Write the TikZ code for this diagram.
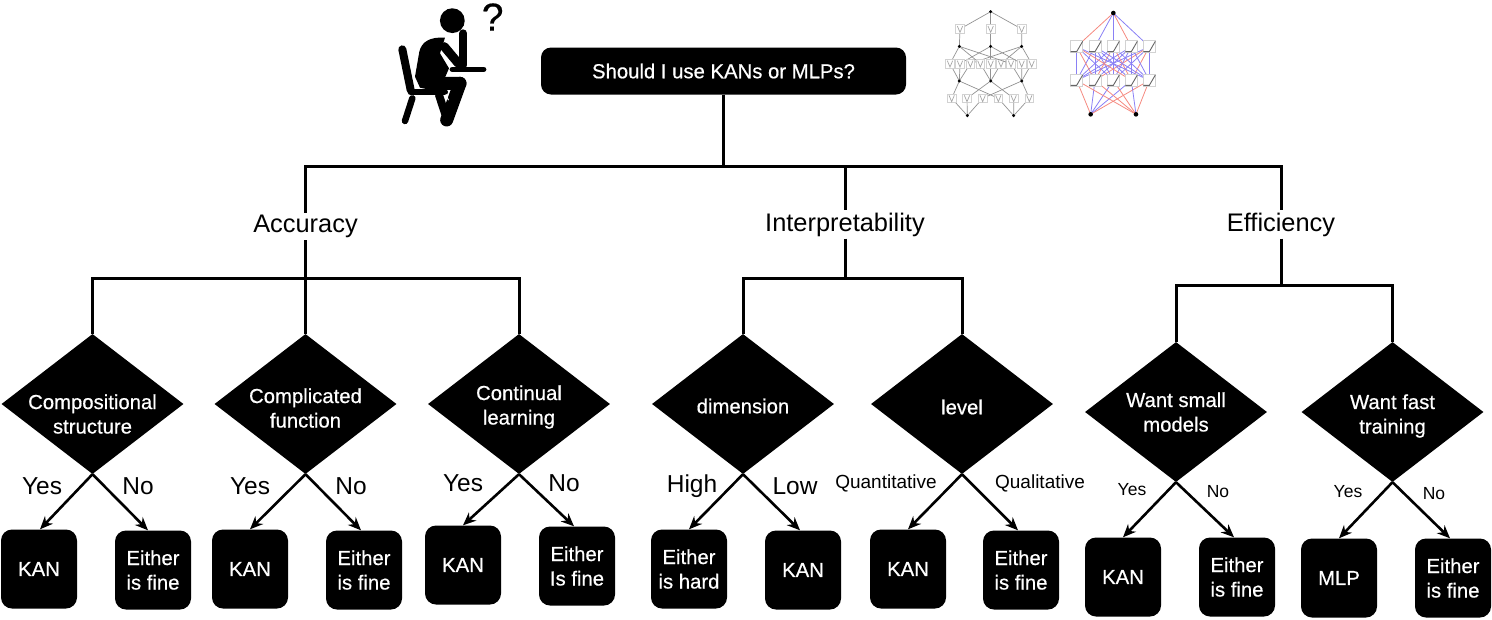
\documentclass[tikz,border=0pt]{standalone}
\usepackage{fontspec}
\setmainfont{Liberation Sans}
\newfontfamily\mediumfont[FakeBold=0.5]{Liberation Sans}
\usetikzlibrary{shapes.geometric,arrows.meta}
\definecolor{edgered}{HTML}{F58A80}
\definecolor{edgeblue}{HTML}{8A80F5}
\tikzset{
  treeline/.style={line width=3pt},
  title/.style={fill=black,text=white,rounded corners=10pt,minimum width=365pt,minimum height=47pt,inner sep=0pt,font=\fontsize{20.3}{24}\mediumfont},
  topic/.style={inner sep=2pt,font=\fontsize{25.4}{30}\selectfont},
  choice/.style={diamond,fill=black,inner sep=0pt,minimum width=182pt,minimum height=140pt},
  choicetext/.style={text=white,align=center,font=\fontsize{20.3}{24.5}\mediumfont},
  leaf/.style={fill=black,text=white,rounded corners=11pt,minimum width=76pt,minimum height=79pt,inner sep=0pt,align=center,font=\fontsize{20.3}{24.5}\mediumfont},
  choicearrow/.style={line width=2.6pt,-{Stealth[length=13pt,width=11pt]}},
  answer/.style={inner sep=0pt,font=\fontsize{24.5}{28}\selectfont},
  answermid/.style={inner sep=0pt,font=\fontsize{19}{22}\selectfont},
  answersmall/.style={inner sep=0pt,font=\fontsize{17.5}{22}\selectfont},
  netnode/.style={fill=black},
  funcbox/.style={draw=gray!35,fill=white,line width=.8pt},
}
\begin{document}
\begin{tikzpicture}[x=1pt,y=-1pt]
  \useasboundingbox (0,0) rectangle (1492,619);

  % root of the tree and the three topics
  \node[title] (root) at (723.5,71) {Should I use KANs or MLPs?};
  \node[topic] (accuracy) at (305.5,226.5) {Accuracy};
  \node[topic] (interp) at (845,224.5) {Interpretability};
  \node[topic] (effic) at (1281,224.5) {Efficiency};
  \coordinate (rootjoin) at (723.5,166);
  \coordinate (accjoin) at (305.5,166);
  \coordinate (intjoin) at (845,166);
  \coordinate (effjoin) at (1281,166);
  \draw[treeline] (root.south) -- (rootjoin);
  \draw[treeline,line cap=rect] (accjoin) -- (effjoin);
  \draw[treeline] (accjoin) -- (accuracy.north);
  \draw[treeline] (intjoin) -- (interp.north);
  \draw[treeline] (effjoin) -- (effic.north);

  % diamonds
  \foreach \name/\xpos/\ypos/\off/\txt in {
    comp/92.5/404/10/{Compositional\\structure},
    compl/305.5/404/4/{Complicated\\function},
    cont/519/404/3/{Continual\\learning},
    dimen/743/404/2/{dimension},
    level/962/404/3/{level},
    small/1176/412/0/{Want small\\models},
    fast/1392.5/412/4/{Want fast\\training}}{
    \node[choice,label={[choicetext,name=\name txt,yshift=-\off pt]center:\txt}] (\name) at (\xpos,\ypos) {};
  }

  % branches down to the diamonds
  \foreach \topic/\joinl/\joinr/\ypos in {
    accuracy/comp/cont/278,
    interp/dimen/level/278,
    effic/small/fast/285}{
    \coordinate (\topic l) at (\joinl.north |- 0,\ypos);
    \coordinate (\topic r) at (\joinr.north |- 0,\ypos);
    \coordinate (\topic m) at (\topic.south |- 0,\ypos);
    \draw[treeline] (\topic.south) -- (\topic m);
    \draw[treeline,line cap=rect] (\topic l) -- (\topic r);
    \draw[treeline] (\topic l) -- (\joinl.north);
    \draw[treeline] (\topic r) -- (\joinr.north);
  }
  \draw[treeline] (accuracym) -- (compl.north);

  % answers
  \foreach \name/\xpos/\ypos/\txt in {
    ka/39/569/KAN,
    fa/153/570/{Either\\is fine},
    kb/250/569/KAN,
    fb/364/570/{Either\\is fine},
    kc/463/565/KAN,
    fc/577/566/{Either\\Is fine},
    hd/689/569/{Either\\is hard},
    kd/803/570/KAN,
    ke/908/569/KAN,
    fe/1021/570/{Either\\is fine},
    kf/1123/577/KAN,
    ff/1237/577/{Either\\is fine},
    mg/1339/578/MLP,
    fg/1453/578/{Either\\is fine}}{
    \node[leaf] (\name) at (\xpos,\ypos) {\txt};
  }
  \foreach \src/\dst/\off in {
    comp/ka/1,comp/fa/-5,compl/kb/0,compl/fb/-3,cont/kc/0,cont/fc/-3,
    dimen/hd/0,dimen/kd/-3,level/ke/0,level/fe/-3,
    small/kf/0,small/ff/-3,fast/mg/0,fast/fg/-3}{
    \draw[choicearrow] (\src.south) -- ([xshift=\off pt]\dst.north);
  }

  \foreach \name/\xpos/\ypos/\txt in {
    ya/42/486/Yes,na/138/486/No,yb/250/486/Yes,nb/351/486/No,
    yc/463/483/Yes,nc/564/483/No,yd/692/486/High,nd/795/486/Low}{
    \node[answer] (\name) at (\xpos,\ypos) {\txt};
  }
  \node[answermid] (ye) at (886,483) {Quantitative};
  \node[answermid] (ne) at (1040,483) {Qualitative};
  \foreach \name/\xpos/\ypos/\txt in {
    yf/1132/490/Yes,nf/1218/492/No,yg/1348/492/Yes,ng/1434/494/No}{
    \node[answersmall] (\name) at (\xpos,\ypos) {\txt};
  }

  % seated figure
  \begin{scope}[xshift=395pt,yshift=-5pt,x=.3333pt,y=-.3333pt,line cap=round,line join=round]
    \fill (172,47) circle (12.4pt);
    \draw[line width=8pt] (22,133) -- (47,255);
    \draw[line width=6pt] (47,262) -- (150,262);
    \draw[line width=6.5pt] (52,280) -- (30,348);
    \fill (150,98) .. controls (105,95) and (80,110) .. (73,140)
      -- (60,215) -- (75,248) -- (140,262) -- (195,235) -- (150,218)
      -- (162,190) -- (135,145) -- cycle;
    \draw[line width=13pt] (195,235) -- (155,345);
    \draw[line width=13pt] (110,236) -- (195,235);
    \draw[line width=8pt] (132,270) -- (150,325);
    \draw[line width=9pt] (148,125) -- (190,175);
    \draw[line width=8pt] (205,85) -- (205,180);
    \draw[line width=5.5pt] (172,193) -- (266,193);
    \draw[white,line width=1pt] (153,268) -- (160,285);
    \node[inner sep=0pt,font=\fontsize{39}{40}\mediumfont] (ask) at (293,36) {?};
  \end{scope}

  % three layer spline network
  \begin{scope}[xshift=930pt,x=.3333pt,y=-.3333pt]
    \foreach \lo/\ylo/\mid/\ymid/\up/\yup in {
      112/347/65/295/88/243,112/347/111/295/182/243,112/347/158/295/275/243,
      251/347/205/295/88/243,251/347/251/295/182/243,251/347/298/295/275/243,
      88/243/60/191/88/139,88/243/90/191/182/139,88/243/121/191/275/139,
      182/243/151/191/88/139,182/243/182/191/182/139,182/243/213/191/275/139,
      275/243/243/191/88/139,275/243/275/191/182/139,275/243/305/191/275/139,
      88/139/90/87/182/35,182/139/182/87/182/35,275/139/275/87/182/35}{
      \draw[gray!85,line width=.7pt] (\lo,\ylo) -- (\mid,\ymid) -- (\up,\yup);
      \draw[funcbox,line width=.6pt] (\mid-13,\ymid-13) rectangle (\mid+13,\ymid+13);
      \draw[gray!70,line width=.7pt] (\mid-8,\ymid-9) -- (\mid,\ymid+10) -- (\mid+8,\ymid-9);
    }
    \foreach \xpos/\ypos in {182/35,88/139,182/139,275/139,88/243,182/243,275/243,112/347,251/347}{
      \fill[netnode] (\xpos,\ypos) circle (1.6pt);
    }
  \end{scope}

  % wide spline network with signed edges
  \begin{scope}[xshift=1060pt,x=.3333pt,y=-.3333pt]
    \foreach \xpos/\tint in {50/edgered,105/edgeblue,160/edgeblue,214/edgered,268/edgeblue}{
      \draw[\tint,line width=.8pt] (160,39) -- (\xpos,140);
    }
    \foreach \i/\xa in {1/50,2/105,3/160,4/214,5/268}{
      \foreach \j/\xb in {1/50,2/105,3/160,4/214,5/268}{
        \pgfmathtruncatemacro\sgn{mod(\i*\j+\j,2)}
        \ifnum\sgn=0 \draw[edgeblue,line width=.8pt] (\xa,241) -- (\xb,140);
        \else \draw[edgered,line width=.8pt] (\xa,241) -- (\xb,140); \fi
      }
    }
    \foreach \src/\xpos/\tint in {
      92/50/edgered,92/105/edgeblue,92/160/edgeblue,92/214/edgeblue,92/268/edgered,
      228/50/edgered,228/105/edgered,228/160/edgered,228/214/edgeblue,228/268/edgered}{
      \draw[\tint,line width=.8pt] (\src,343) -- (\xpos,241);
    }
    \foreach \ypos in {140,241}{
      \foreach \xpos in {50,105,160,214,268}{
        \draw[funcbox] (\xpos-18,\ypos-18) rectangle (\xpos+18,\ypos+18);
        \draw[gray!80!black,line width=.9pt] (\xpos-18,\ypos+15) -- (\xpos,\ypos+15) -- (\xpos+18,\ypos-16);
      }
    }
    \foreach \xpos/\ypos in {160/39,92/343,228/343}{
      \fill[netnode] (\xpos,\ypos) circle (2.3pt);
    }
  \end{scope}
\end{tikzpicture}
\end{document}
